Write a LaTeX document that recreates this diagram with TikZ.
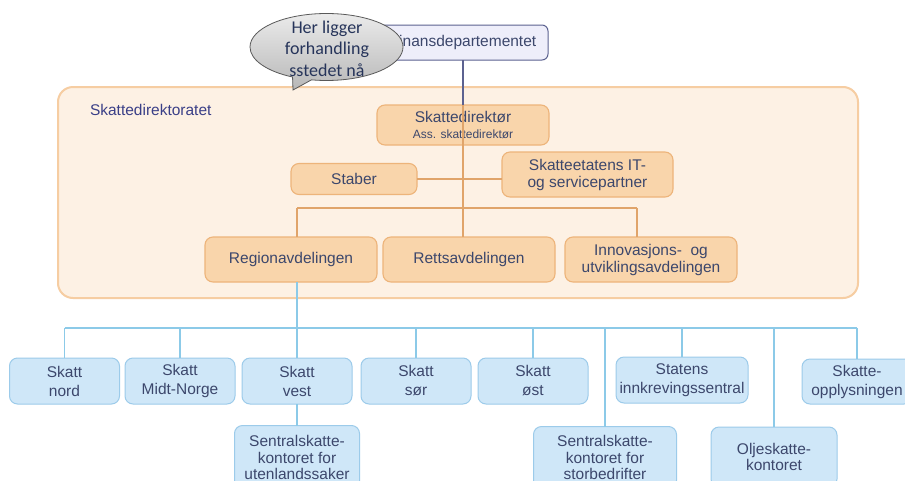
\documentclass[tikz,border=0pt]{standalone}
\usepackage{fontspec}
\setmainfont{Liberation Sans}
\newfontfamily\calfont{Carlito}
\usetikzlibrary{shapes.callouts,calc}
\definecolor{txt}{HTML}{3C476C}
\definecolor{labtxt}{HTML}{3A3F87}
\definecolor{bigfill}{HTML}{FDF1E4}
\definecolor{bigdraw}{HTML}{F6CDA2}
\definecolor{ofill}{HTML}{F9D5AB}
\definecolor{odraw}{HTML}{EDB47A}
\definecolor{oline}{HTML}{E0A46A}
\definecolor{bfill}{HTML}{CFE7F8}
\definecolor{bdraw}{HTML}{9CCBEA}
\definecolor{bline}{HTML}{8CCAE8}
\definecolor{ffill}{HTML}{EEEEFA}
\definecolor{fdraw}{HTML}{5C6290}
\definecolor{calltxt}{HTML}{26345A}
\begin{document}
\begin{tikzpicture}[x=1pt,y=-1pt,
  every node/.style={inner sep=0pt,outer sep=0pt,align=center,text=txt},
  obox/.style={draw=odraw,fill=ofill,line width=1.1pt,rounded corners=8pt,
    font=\fontsize{15.5}{17}\selectfont},
  bbox/.style={draw=bdraw,fill=bfill,line width=1pt,rounded corners=8pt,
    font=\fontsize{15.5}{19}\selectfont},
  bbox2/.style={bbox,font=\fontsize{15.5}{16.5}\selectfont},
  ol/.style={draw=oline,line width=1.2pt},
  bl/.style={draw=bline,line width=1.1pt},
  fl/.style={draw=fdraw,line width=1.1pt}]
\useasboundingbox (0,0) rectangle (905,480);
\fill[white] (0,0) rectangle (905,480);

% Skattedirektoratet container
\node[draw=bigdraw,fill=bigfill,line width=2pt,rounded corners=15pt,
  minimum width=800pt,minimum height=211pt] (dirat) at (458,192.5) {};
\node[anchor=west,text=labtxt,font=\fontsize{15.5}{17}\selectfont] (diratlab) at (90,110) {Skattedirektoratet};

% Finansdepartementet
\node[draw=fdraw,fill=ffill,line width=1pt,rounded corners=6pt,
  minimum width=170pt,minimum height=35pt,font=\fontsize{15.5}{17}\selectfont] (fin) at (463,42.5) {Finansdepartementet};

% Orange boxes
\node[obox,minimum width=172pt,minimum height=40pt] (dir) at (463,125)
  {Skattedirektør\\[-1pt]{\fontsize{12}{13}\selectfont Ass. skattedirektør}};
\node[obox,minimum width=126pt,minimum height=31pt] (stab) at (354,179) {Staber};
\node[obox,minimum width=171pt,minimum height=45pt] (it) at (587.5,174.5) {Skatteetatens IT-\\og servicepartner};
\node[obox,minimum width=172pt,minimum height=45pt] (reg) at (291,259.5) {Regionavdelingen};
\node[obox,minimum width=172pt,minimum height=45pt] (rett) at (469,259.5) {Rettsavdelingen};
\node[obox,minimum width=172pt,minimum height=45pt] (inn) at (651,259.5) {Innovasjons- \ og\\utviklingsavdelingen};

% Orange connectors
\draw[fl] (fin.south) -- (fin.south |- dir.north);
\draw[ol] (fin.south |- dir.north) -- (fin.south |- rett.north);
\draw[ol] (stab.east) -- (stab.east -| it.west);
\coordinate (obl) at (297,208);
\coordinate (obr) at (637,208);
\draw[ol] (obl) -- (obr);
\draw[ol] (obl) -- (obl |- reg.north);
\draw[ol] (obr) -- (obr |- inn.north);

% Blue boxes
\node[bbox,minimum width=110pt,minimum height=46pt] (nord) at (64.5,381) {Skatt\\nord};
\node[bbox,minimum width=110pt,minimum height=46pt] (midt) at (180,381) {Skatt\\Midt-Norge};
\node[bbox,minimum width=110pt,minimum height=46pt] (vest) at (297,381) {Skatt\\vest};
\node[bbox,minimum width=110pt,minimum height=46pt] (sor) at (416,381) {Skatt\\sør};
\node[bbox,minimum width=110pt,minimum height=46pt] (ost) at (533,381) {Skatt\\øst};
\node[bbox,minimum width=132pt,minimum height=46pt] (stat) at (682,380) {Statens\\innkrevingssentral};
\node[bbox,minimum width=110pt,minimum height=45pt] (oppl) at (857,381.5) {Skatte-\\opplysningen};
\node[bbox2,minimum width=125pt,minimum height=64pt] (utl) at (297,457.5) {Sentralskatte-\\kontoret for\\utenlandssaker};
\node[bbox2,minimum width=143pt,minimum height=62pt] (stor) at (605,457.5) {Sentralskatte-\\kontoret for\\storbedrifter};
\node[bbox2,minimum width=126pt,minimum height=60pt] (olje) at (774,457) {Oljeskatte-\\kontoret};

% Blue connectors
\coordinate (bbar) at (297,328);
\draw[bl] (reg.south -| bbar) -- (bbar);
\draw[bl] (bbar -| nord.north) -- (bbar -| oppl.north);
\foreach \n in {nord,midt,vest,sor,ost,stat,oppl}
  \draw[bl] (bbar -| \n.north) -- (\n.north);
\draw[bl] (vest.south) -- (utl.north);
\draw[bl] (bbar -| stor.north) -- (stor.north);
\draw[bl] (bbar -| olje.north) -- (olje.north);

% Callout
\node[ellipse callout,draw=black!65,line width=0.8pt,
  top color=black!8,bottom color=black!28,
  minimum width=153pt,minimum height=67pt,
  callout absolute pointer={(293,90)}] (call) at (326.5,47) {};
\node[font=\calfont\fontsize{18}{21.5}\selectfont,text=calltxt] (calltxt) at (327,48.5) {Her ligger\\forhandling\\sstedet nå};
\end{tikzpicture}
\end{document}
